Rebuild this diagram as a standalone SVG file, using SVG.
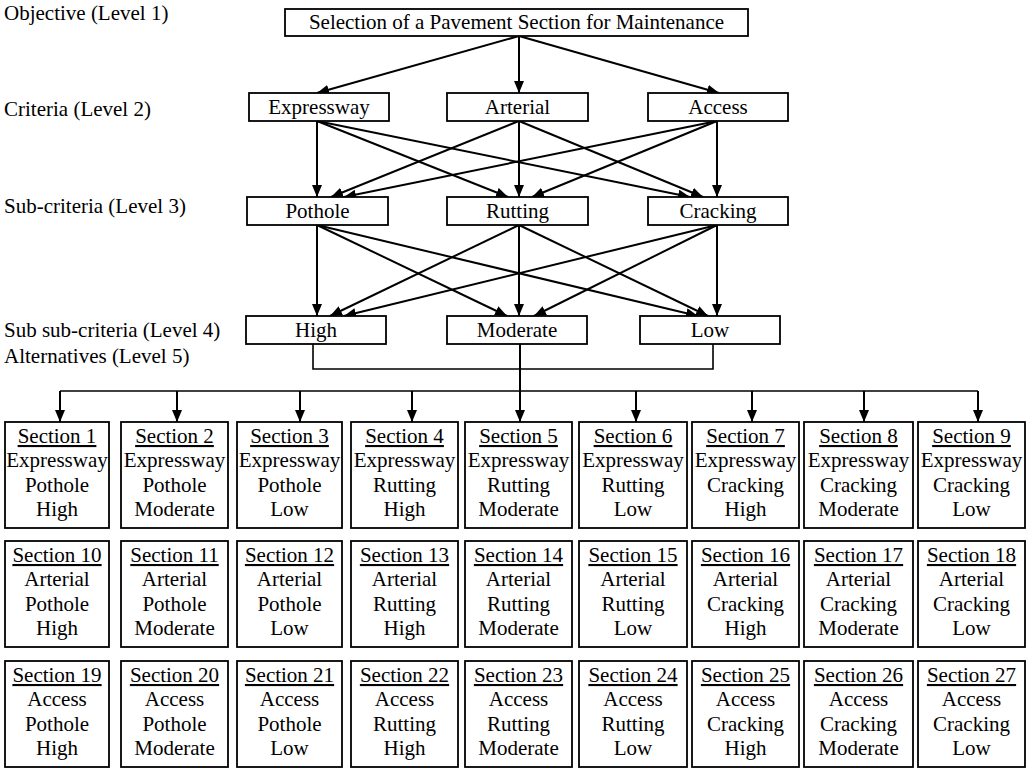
<svg xmlns="http://www.w3.org/2000/svg" width="1026" height="769" viewBox="0 0 1026 769" font-family="'Liberation Serif', 'DejaVu Serif', serif">
<style>
text{font-family:'Liberation Serif','DejaVu Serif',serif;font-size:21px;fill:#000}
.c{text-anchor:middle}
.box{fill:#fff;stroke:#000;stroke-width:1.8}
.u{text-decoration:underline}
.a{stroke:#000;stroke-width:2;fill:none;marker-end:url(#ah)}
.t{stroke:#000;stroke-width:1.6;fill:none}
</style>
<defs>
<marker id="ah" markerUnits="userSpaceOnUse" markerWidth="13" markerHeight="11" refX="12" refY="5" orient="auto">
<path d="M0,0 L12,5 L0,10 z" fill="#000"/>
</marker>
</defs>
<g id="level-labels">
<text x="4" y="20">Objective (Level 1)</text>
<text x="4" y="116">Criteria (Level 2)</text>
<text x="4" y="213">Sub-criteria (Level 3)</text>
<text x="4" y="337">Sub sub-criteria (Level 4)</text>
<text x="4" y="363">Alternatives (Level 5)</text>
</g>
<g id="connectors">
<line class="a" x1="519" y1="36" x2="317" y2="93"/>
<line class="a" x1="519" y1="36" x2="519" y2="93"/>
<line class="a" x1="519" y1="36" x2="719" y2="93"/>
<line class="a" x1="317" y1="121" x2="317" y2="197"/>
<line class="a" x1="317" y1="121" x2="508" y2="197"/>
<line class="a" x1="317" y1="121" x2="690" y2="197"/>
<line class="a" x1="519" y1="121" x2="331" y2="197"/>
<line class="a" x1="519" y1="121" x2="519" y2="197"/>
<line class="a" x1="519" y1="121" x2="703" y2="197"/>
<line class="a" x1="717" y1="121" x2="344" y2="197"/>
<line class="a" x1="717" y1="121" x2="532" y2="197"/>
<line class="a" x1="717" y1="121" x2="717" y2="197"/>
<line class="a" x1="317" y1="225" x2="317" y2="316"/>
<line class="a" x1="317" y1="225" x2="507" y2="316"/>
<line class="a" x1="317" y1="225" x2="698" y2="316"/>
<line class="a" x1="519" y1="225" x2="330" y2="316"/>
<line class="a" x1="519" y1="225" x2="519" y2="316"/>
<line class="a" x1="519" y1="225" x2="708" y2="316"/>
<line class="a" x1="717" y1="225" x2="344" y2="316"/>
<line class="a" x1="717" y1="225" x2="534" y2="316"/>
<line class="a" x1="717" y1="225" x2="717" y2="316"/>
<polyline class="t" points="313,344 313,369 713,369 713,344"/>
<line class="t" x1="60" y1="391" x2="978" y2="391"/>
<line class="a" x1="520" y1="344" x2="520" y2="422"/>
<line class="a" x1="60" y1="391" x2="60" y2="422"/>
<line class="a" x1="177" y1="391" x2="177" y2="422"/>
<line class="a" x1="300" y1="391" x2="300" y2="422"/>
<line class="a" x1="412" y1="391" x2="412" y2="422"/>
<line class="a" x1="636" y1="391" x2="636" y2="422"/>
<line class="a" x1="752" y1="391" x2="752" y2="422"/>
<line class="a" x1="864" y1="391" x2="864" y2="422"/>
<line class="a" x1="978" y1="391" x2="978" y2="422"/>
</g>
<g id="objective"><rect class="box" x="285" y="9" width="463" height="27"/><text class="c" x="516.5" y="29">Selection of a Pavement Section for Maintenance</text></g>
<g id="expressway"><rect class="box" x="249" y="93" width="140" height="28"/><text class="c" x="319" y="114">Expressway</text></g>
<g id="arterial"><rect class="box" x="447" y="93" width="141" height="28"/><text class="c" x="517.5" y="114">Arterial</text></g>
<g id="access"><rect class="box" x="648" y="93" width="140" height="28"/><text class="c" x="718" y="114">Access</text></g>
<g id="pothole"><rect class="box" x="247" y="197" width="141" height="28"/><text class="c" x="317.5" y="218">Pothole</text></g>
<g id="rutting"><rect class="box" x="447" y="197" width="141" height="28"/><text class="c" x="517.5" y="218">Rutting</text></g>
<g id="cracking"><rect class="box" x="648" y="197" width="140" height="28"/><text class="c" x="718" y="218">Cracking</text></g>
<g id="high"><rect class="box" x="246" y="316" width="140" height="28"/><text class="c" x="316" y="337">High</text></g>
<g id="moderate"><rect class="box" x="447" y="316" width="140" height="28"/><text class="c" x="517" y="337">Moderate</text></g>
<g id="low"><rect class="box" x="640" y="316" width="140" height="28"/><text class="c" x="710" y="337">Low</text></g>

<g id="section1"><rect class="box" x="5" y="422" width="104" height="106"/><text class="c u" x="57" y="443">Section 1</text><text class="c" x="57" y="467">Expressway</text><text class="c" x="57" y="491.5">Pothole</text><text class="c" x="57" y="516">High</text></g>
<g id="section2"><rect class="box" x="121" y="422" width="107" height="106"/><text class="c u" x="174.5" y="443">Section 2</text><text class="c" x="174.5" y="467">Expressway</text><text class="c" x="174.5" y="491.5">Pothole</text><text class="c" x="174.5" y="516">Moderate</text></g>
<g id="section3"><rect class="box" x="237" y="422" width="105" height="106"/><text class="c u" x="289.5" y="443">Section 3</text><text class="c" x="289.5" y="467">Expressway</text><text class="c" x="289.5" y="491.5">Pothole</text><text class="c" x="289.5" y="516">Low</text></g>
<g id="section4"><rect class="box" x="351" y="422" width="107" height="106"/><text class="c u" x="404.5" y="443">Section 4</text><text class="c" x="404.5" y="467">Expressway</text><text class="c" x="404.5" y="491.5">Rutting</text><text class="c" x="404.5" y="516">High</text></g>
<g id="section5"><rect class="box" x="465" y="422" width="107" height="106"/><text class="c u" x="518.5" y="443">Section 5</text><text class="c" x="518.5" y="467">Expressway</text><text class="c" x="518.5" y="491.5">Rutting</text><text class="c" x="518.5" y="516">Moderate</text></g>
<g id="section6"><rect class="box" x="579" y="422" width="108" height="106"/><text class="c u" x="633" y="443">Section 6</text><text class="c" x="633" y="467">Expressway</text><text class="c" x="633" y="491.5">Rutting</text><text class="c" x="633" y="516">Low</text></g>
<g id="section7"><rect class="box" x="692" y="422" width="107" height="106"/><text class="c u" x="745.5" y="443">Section 7</text><text class="c" x="745.5" y="467">Expressway</text><text class="c" x="745.5" y="491.5">Cracking</text><text class="c" x="745.5" y="516">High</text></g>
<g id="section8"><rect class="box" x="804" y="422" width="109" height="106"/><text class="c u" x="858.5" y="443">Section 8</text><text class="c" x="858.5" y="467">Expressway</text><text class="c" x="858.5" y="491.5">Cracking</text><text class="c" x="858.5" y="516">Moderate</text></g>
<g id="section9"><rect class="box" x="918" y="422" width="107" height="106"/><text class="c u" x="971.5" y="443">Section 9</text><text class="c" x="971.5" y="467">Expressway</text><text class="c" x="971.5" y="491.5">Cracking</text><text class="c" x="971.5" y="516">Low</text></g>

<g id="section10"><rect class="box" x="5" y="541" width="104" height="106"/><text class="c u" x="57" y="562">Section 10</text><text class="c" x="57" y="586">Arterial</text><text class="c" x="57" y="610.5">Pothole</text><text class="c" x="57" y="635">High</text></g>
<g id="section11"><rect class="box" x="121" y="541" width="107" height="106"/><text class="c u" x="174.5" y="562">Section 11</text><text class="c" x="174.5" y="586">Arterial</text><text class="c" x="174.5" y="610.5">Pothole</text><text class="c" x="174.5" y="635">Moderate</text></g>
<g id="section12"><rect class="box" x="237" y="541" width="105" height="106"/><text class="c u" x="289.5" y="562">Section 12</text><text class="c" x="289.5" y="586">Arterial</text><text class="c" x="289.5" y="610.5">Pothole</text><text class="c" x="289.5" y="635">Low</text></g>
<g id="section13"><rect class="box" x="351" y="541" width="107" height="106"/><text class="c u" x="404.5" y="562">Section 13</text><text class="c" x="404.5" y="586">Arterial</text><text class="c" x="404.5" y="610.5">Rutting</text><text class="c" x="404.5" y="635">High</text></g>
<g id="section14"><rect class="box" x="465" y="541" width="107" height="106"/><text class="c u" x="518.5" y="562">Section 14</text><text class="c" x="518.5" y="586">Arterial</text><text class="c" x="518.5" y="610.5">Rutting</text><text class="c" x="518.5" y="635">Moderate</text></g>
<g id="section15"><rect class="box" x="579" y="541" width="108" height="106"/><text class="c u" x="633" y="562">Section 15</text><text class="c" x="633" y="586">Arterial</text><text class="c" x="633" y="610.5">Rutting</text><text class="c" x="633" y="635">Low</text></g>
<g id="section16"><rect class="box" x="692" y="541" width="107" height="106"/><text class="c u" x="745.5" y="562">Section 16</text><text class="c" x="745.5" y="586">Arterial</text><text class="c" x="745.5" y="610.5">Cracking</text><text class="c" x="745.5" y="635">High</text></g>
<g id="section17"><rect class="box" x="804" y="541" width="109" height="106"/><text class="c u" x="858.5" y="562">Section 17</text><text class="c" x="858.5" y="586">Arterial</text><text class="c" x="858.5" y="610.5">Cracking</text><text class="c" x="858.5" y="635">Moderate</text></g>
<g id="section18"><rect class="box" x="918" y="541" width="107" height="106"/><text class="c u" x="971.5" y="562">Section 18</text><text class="c" x="971.5" y="586">Arterial</text><text class="c" x="971.5" y="610.5">Cracking</text><text class="c" x="971.5" y="635">Low</text></g>

<g id="section19"><rect class="box" x="5" y="661" width="104" height="106"/><text class="c u" x="57" y="682">Section 19</text><text class="c" x="57" y="706">Access</text><text class="c" x="57" y="730.5">Pothole</text><text class="c" x="57" y="755">High</text></g>
<g id="section20"><rect class="box" x="121" y="661" width="107" height="106"/><text class="c u" x="174.5" y="682">Section 20</text><text class="c" x="174.5" y="706">Access</text><text class="c" x="174.5" y="730.5">Pothole</text><text class="c" x="174.5" y="755">Moderate</text></g>
<g id="section21"><rect class="box" x="237" y="661" width="105" height="106"/><text class="c u" x="289.5" y="682">Section 21</text><text class="c" x="289.5" y="706">Access</text><text class="c" x="289.5" y="730.5">Pothole</text><text class="c" x="289.5" y="755">Low</text></g>
<g id="section22"><rect class="box" x="351" y="661" width="107" height="106"/><text class="c u" x="404.5" y="682">Section 22</text><text class="c" x="404.5" y="706">Access</text><text class="c" x="404.5" y="730.5">Rutting</text><text class="c" x="404.5" y="755">High</text></g>
<g id="section23"><rect class="box" x="465" y="661" width="107" height="106"/><text class="c u" x="518.5" y="682">Section 23</text><text class="c" x="518.5" y="706">Access</text><text class="c" x="518.5" y="730.5">Rutting</text><text class="c" x="518.5" y="755">Moderate</text></g>
<g id="section24"><rect class="box" x="579" y="661" width="108" height="106"/><text class="c u" x="633" y="682">Section 24</text><text class="c" x="633" y="706">Access</text><text class="c" x="633" y="730.5">Rutting</text><text class="c" x="633" y="755">Low</text></g>
<g id="section25"><rect class="box" x="692" y="661" width="107" height="106"/><text class="c u" x="745.5" y="682">Section 25</text><text class="c" x="745.5" y="706">Access</text><text class="c" x="745.5" y="730.5">Cracking</text><text class="c" x="745.5" y="755">High</text></g>
<g id="section26"><rect class="box" x="804" y="661" width="109" height="106"/><text class="c u" x="858.5" y="682">Section 26</text><text class="c" x="858.5" y="706">Access</text><text class="c" x="858.5" y="730.5">Cracking</text><text class="c" x="858.5" y="755">Moderate</text></g>
<g id="section27"><rect class="box" x="918" y="661" width="107" height="106"/><text class="c u" x="971.5" y="682">Section 27</text><text class="c" x="971.5" y="706">Access</text><text class="c" x="971.5" y="730.5">Cracking</text><text class="c" x="971.5" y="755">Low</text></g>
</svg>
